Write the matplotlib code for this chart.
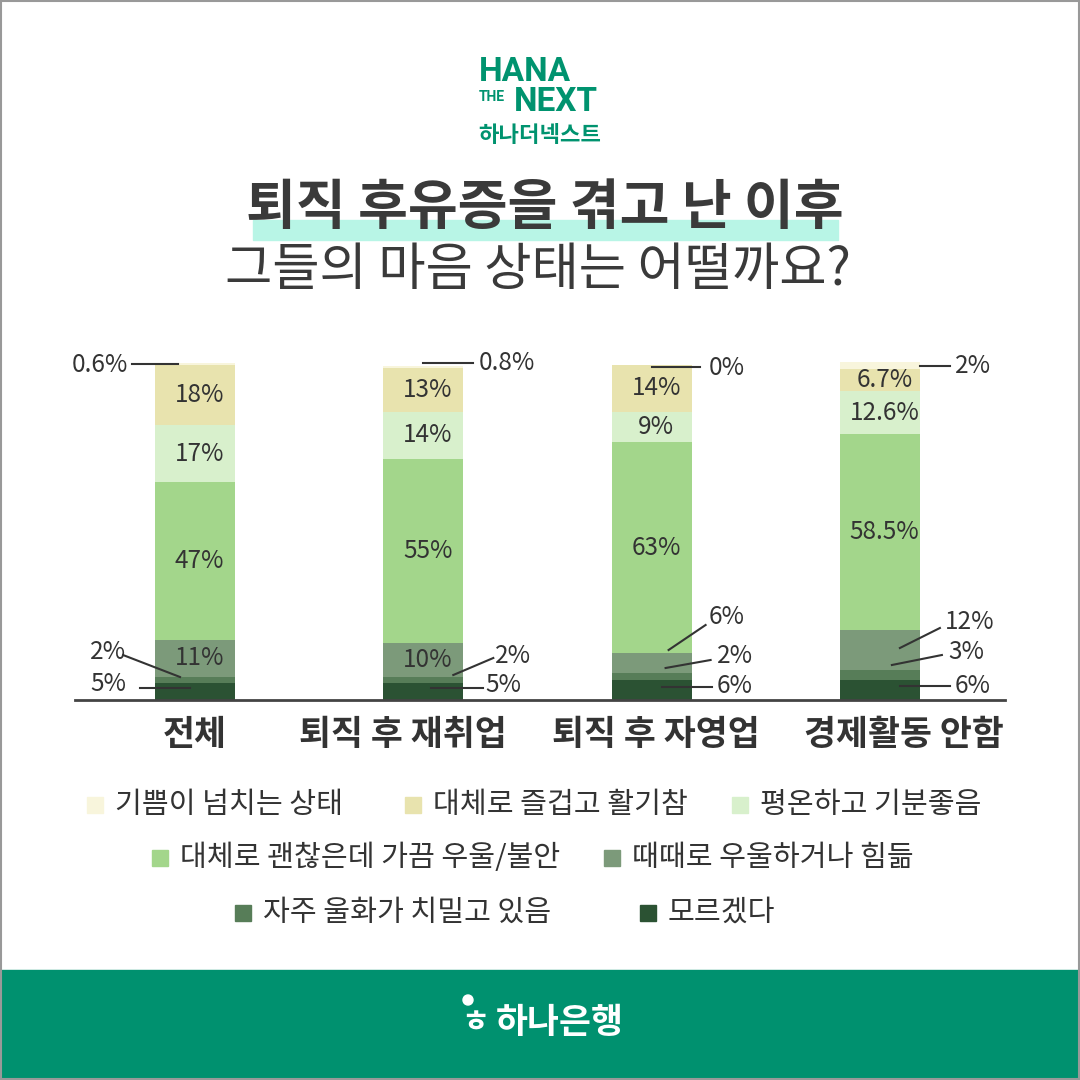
import matplotlib
matplotlib.use("Agg")
import matplotlib.pyplot as plt
from matplotlib import font_manager as fm
from matplotlib.patches import Rectangle, Circle
import numpy as np

kr = None
for f in fm.findSystemFonts():
    if "CJK" in f and ("Regular" in f or "KR" in f or ".ttc" in f):
        try:
            fm.fontManager.addfont(f)
        except Exception:
            pass
names = sorted({e.name for e in fm.fontManager.ttflist if "CJK" in e.name})
for cand in ["Noto Sans CJK KR", "Noto Sans KR", "Noto Sans CJK JP", "Noto Sans CJK SC"]:
    if cand in names:
        kr = cand
        break
if kr is None and names:
    kr = names[0]
plt.rcParams["font.family"] = [kr, "DejaVu Sans"] if kr else ["DejaVu Sans"]

categories = ["전체", "퇴직 후 재취업", "퇴직 후 자영업", "경제활동 안함"]
series_names = ["모르겠다", "자주 울화가 치밀고 있음", "때때로 우울하거나 힘듦",
                "대체로 괜찮은데 가끔 우울/불안", "평온하고 기분좋음",
                "대체로 즐겁고 활기참", "기쁨이 넘치는 상태"]
values = [
    [5, 5, 6, 6],
    [2, 2, 2, 3],
    [11, 10, 6, 12],
    [47, 55, 63, 58.5],
    [17, 14, 9, 12.6],
    [18, 13, 14, 6.7],
    [0.6, 0.8, 0, 2],
]
labels = [
    ["5%", "5%", "6%", "6%"],
    ["2%", "2%", "2%", "3%"],
    ["11%", "10%", "6%", "12%"],
    ["47%", "55%", "63%", "58.5%"],
    ["17%", "14%", "9%", "12.6%"],
    ["18%", "13%", "14%", "6.7%"],
    ["0.6%", "0.8%", "0%", "2%"],
]
colors = ["#2B5233", "#577D58", "#7C9A7A", "#A3D68B", "#D8F0CC", "#E8E3AE", "#F8F5DC"]
TXT = "#333333"

W = H = 1080
fig = plt.figure(figsize=(10.8, 10.8), dpi=100)
fig.patch.set_facecolor("white")

def fy(y):
    return 1 - y / H

def fx(x):
    return x / W

PPU = 3.35
ytop = 105
ax_h = ytop * PPU
ax = fig.add_axes([fx(75), fy(700), fx(930), ax_h / H])
SP = 228.3
ax.set_xlim((75 - 195) / SP, (1005 - 195) / SP)
ax.set_ylim(0, ytop)
ax.axis("off")
ax.plot([(75 - 195) / SP, (1005 - 195) / SP], [0, 0], color="#444444", lw=2, clip_on=False)

VFS = 17.5
x = np.arange(len(categories))
bottom = np.zeros(len(categories))
for i, (vals, c) in enumerate(zip(values, colors)):
    vals = np.array(vals, dtype=float)
    ax.bar(x, vals, bottom=bottom, width=80 / SP, color=c, edgecolor="none")
    for j in range(len(categories)):
        inside = i in (3, 4, 5) or (i == 2 and j in (0, 1))
        if inside:
            ax.text(x[j] + 0.02, bottom[j] + vals[j] / 2, labels[i][j], ha="center", va="center",
                    fontsize=VFS, color=TXT)
    bottom += vals

def py(ypx):
    return (700 - ypx) / PPU

ext = [
    (6, 0, -67, 365, "right", (-63, 364, -17, 364)),
    (1, 0, -87, 652, "center", (-72, 655, -15, 677)),
    (0, 0, -87, 684, "center", (-55, 688, -5, 688)),
    (6, 1, 55, 363, "left", (0, 363, 50, 363)),
    (1, 1, 72, 656, "left", (30, 675, 70, 658)),
    (0, 1, 62, 685, "left", (8, 688, 60, 688)),
    (6, 2, 57, 368, "left", (0, 367, 48, 367)),
    (2, 2, 57, 617, "left", (17, 650, 54, 625)),
    (1, 2, 65, 656, "left", (14, 668, 59, 660)),
    (0, 2, 65, 686, "left", (10, 687, 60, 687)),
    (6, 3, 75, 366, "left", (40, 366, 70, 366)),
    (2, 3, 65, 622, "left", (20, 648, 60, 628)),
    (1, 3, 68, 652, "left", (12, 665, 62, 655)),
    (0, 3, 75, 686, "left", (20, 686, 70, 686)),
]
for s, j, tx, ty, ha, (x1, y1, x2, y2) in ext:
    ax.plot([x[j] + x1 / SP, x[j] + x2 / SP], [py(y1), py(y2)], color="#333333", lw=1.5,
            clip_on=False)
    ax.text(x[j] + tx / SP, py(ty), labels[s][j], ha=ha, va="center", fontsize=VFS,
            color=TXT, clip_on=False)

cat_off = [0, -20, 4, 24]
for j, cat in enumerate(categories):
    ax.text(x[j] + cat_off[j] / SP, py(735), cat, ha="center", va="center", fontsize=25,
            fontweight="bold", color=TXT, clip_on=False)

fig.text(fx(525), fy(72), "HANA", ha="center", va="center", fontsize=24, fontweight="bold",
         color="#00936F", family="Roboto")
fig.text(fx(492), fy(97), "THE", ha="center", va="center", fontsize=10, fontweight="bold",
         color="#00936F", family="Roboto")
fig.text(fx(556), fy(102), "NEXT", ha="center", va="center", fontsize=24, fontweight="bold",
         color="#00936F", family="Roboto")
fig.text(fx(540), fy(135), "하나더넥스트", ha="center", va="center", fontsize=16,
         fontweight="bold", color="#00936F")
fig.patches.append(Rectangle((fx(253), fy(240)), fx(585), 20 / H, transform=fig.transFigure,
                             color="#B8F5E6", zorder=0))
fig.text(fx(545), fy(208), "퇴직 후유증을 겪고 난 이후", ha="center", va="center",
         fontsize=39, fontweight="bold", color="#3a3a3a", zorder=2)
fig.text(fx(538), fy(270), "그들의 마음 상태는 어떨까요?", ha="center", va="center",
         fontsize=37, fontweight="normal", color="#3a3a3a")

leg = [
    (6, 95, 805), (5, 413, 805), (4, 740, 805),
    (3, 160, 858), (2, 612, 858),
    (1, 243, 913), (0, 648, 913),
]
for s, lx, ly in leg:
    fig.patches.append(Rectangle((fx(lx - 8), fy(ly + 8)), 16 / W, 16 / H,
                                 transform=fig.transFigure, color=colors[s]))
    fig.text(fx(lx + 20), fy(ly), series_names[s], ha="left", va="center", fontsize=21,
             color=TXT, fontweight="normal")

fig.patches.append(Rectangle((0, 0), 1, 110 / H, transform=fig.transFigure, color="#00916F"))
fig.patches.append(Circle((fx(468), fy(1000)), 5 / W, transform=fig.transFigure, color="white"))
fig.text(fx(475), fy(1024), "ㅎ", ha="center", va="center", fontsize=22, color="white",
         fontweight="bold")
fig.text(fx(560), fy(1022), "하나은행", ha="center", va="center", fontsize=25,
         fontweight="bold", color="white")
fig.patches.append(Rectangle((0.0005, 0.0005), 0.999, 0.999, transform=fig.transFigure,
                             fill=False, edgecolor="#999999", lw=1.5))

fig.savefig("out.png", dpi=100)
